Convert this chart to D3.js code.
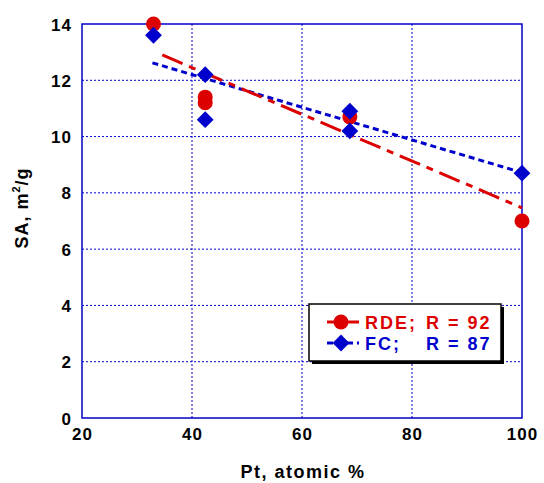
<!DOCTYPE html>
<html>
<head>
<meta charset="utf-8">
<script src="https://cdn.jsdelivr.net/npm/d3@7"></script>
<style>
  html, body { margin: 0; padding: 0; background: #fff; }
  text { font-family: "Liberation Sans", Arial, sans-serif; font-weight: bold; }
</style>
</head>
<body>
<svg id="chart" width="544" height="483"></svg>
<script>
// Surface area vs. Pt content, measured by two methods
const rdePt = [33, 42.4, 42.4, 68.7, 100];
const rdeSA = [14.0, 11.4, 11.2, 10.7, 7.0];
const fcPt  = [33, 42.4, 42.4, 68.7, 68.7, 100];
const fcSA  = [13.6, 12.2, 10.6, 10.9, 10.2, 8.7];

// Trend lines (end points)
const rdeFitPt = [34.6, 100];
const rdeFitSA = [12.9, 7.47];
const fcFitPt  = [32.8, 100];
const fcFitSA  = [12.62, 8.72];

const xTicks = [20, 40, 60, 80, 100];
const yTicks = [0, 2, 4, 6, 8, 10, 12, 14];

const legendLabels = ["RDE;", "FC;"];
const legendR = ["R = 92", "R = 87"];

const RED = "#dd0000";
const BLUE = "#0000cc";

const svg = d3.select("#chart");
const m = { left: 82, right: 522, top: 24, bottom: 418 };

const x = d3.scaleLinear().domain([20, 100]).range([m.left, m.right]);
const y = d3.scaleLinear().domain([0, 14]).range([m.bottom, m.top]);

// grid
const grid = svg.append("g");
grid.selectAll("line.v").data(xTicks.slice(1, -1)).join("line")
  .attr("x1", d => x(d)).attr("x2", d => x(d))
  .attr("y1", m.top).attr("y2", m.bottom)
  .attr("stroke", BLUE).attr("stroke-width", 1).attr("stroke-dasharray", "2,2");
grid.selectAll("line.h").data(yTicks.slice(1, -1)).join("line")
  .attr("x1", m.left).attr("x2", m.right)
  .attr("y1", d => y(d)).attr("y2", d => y(d))
  .attr("stroke", BLUE).attr("stroke-width", 1).attr("stroke-dasharray", "2,2");

// frame
svg.append("rect")
  .attr("x", m.left).attr("y", m.top)
  .attr("width", m.right - m.left).attr("height", m.bottom - m.top)
  .attr("fill", "none").attr("stroke", BLUE).attr("stroke-width", 1.5);

// axes (labels only)
const xAxis = svg.append("g").attr("transform", `translate(0,${m.bottom})`)
  .call(d3.axisBottom(x).tickValues(xTicks).tickSize(0).tickPadding(10));
xAxis.select(".domain").remove();
xAxis.selectAll("text").attr("font-size", 17).attr("letter-spacing", 1)
  .attr("fill", "#000").attr("font-family", "Liberation Sans, Arial, sans-serif")
  .attr("font-weight", "bold");

const yAxis = svg.append("g").attr("transform", `translate(${m.left},0)`)
  .call(d3.axisLeft(y).tickValues(yTicks).tickSize(0).tickPadding(10));
yAxis.select(".domain").remove();
yAxis.selectAll("text").attr("font-size", 17).attr("letter-spacing", 1)
  .attr("fill", "#000").attr("dy", "0.36em").attr("font-family", "Liberation Sans, Arial, sans-serif")
  .attr("font-weight", "bold");

// axis titles
svg.append("text").attr("x", 303).attr("y", 478).attr("text-anchor", "middle")
  .attr("font-size", 18).attr("letter-spacing", 1.5).text("Pt, atomic %");

const yt = svg.append("text").attr("transform", "translate(28,208) rotate(-90)")
  .attr("text-anchor", "middle").attr("font-size", 18).attr("letter-spacing", 1);
yt.append("tspan").text("SA, m");
yt.append("tspan").attr("font-size", 11).attr("dy", -8).text("2");
yt.append("tspan").attr("dy", 8).text("/g");

// trend lines
const line = d3.line().x(d => x(d[0])).y(d => y(d[1]));
svg.append("path").datum(d3.zip(fcFitPt, fcFitSA)).attr("d", line)
  .attr("fill", "none").attr("stroke", BLUE).attr("stroke-width", 3)
  .attr("stroke-dasharray", "6,4");
svg.append("path").datum(d3.zip(rdeFitPt, rdeFitSA)).attr("d", line)
  .attr("fill", "none").attr("stroke", RED).attr("stroke-width", 3)
  .attr("stroke-dasharray", "22,7,7,7");

// markers
const diamond = d3.symbol().type(d3.symbolDiamond2).size(180);
svg.append("g").selectAll("circle").data(d3.zip(rdePt, rdeSA)).join("circle")
  .attr("cx", d => x(d[0])).attr("cy", d => y(d[1])).attr("r", 7.5).attr("fill", RED);
svg.append("g").selectAll("path").data(d3.zip(fcPt, fcSA)).join("path")
  .attr("transform", d => `translate(${x(d[0])},${y(d[1])})`)
  .attr("d", diamond).attr("fill", BLUE);

// legend
const lg = svg.append("g");
lg.append("rect").attr("x", 312).attr("y", 307).attr("width", 192).attr("height", 57).attr("fill", "#000");
lg.append("rect").attr("x", 309).attr("y", 304).attr("width", 192).attr("height", 57)
  .attr("fill", "#fff").attr("stroke", "#000").attr("stroke-width", 1.5);

const rows = [
  { c: RED, yy: 322, dash: null },
  { c: BLUE, yy: 343, dash: "6,4" }
];
rows.forEach((r, i) => {
  lg.append("line").attr("x1", 327).attr("x2", 359).attr("y1", r.yy).attr("y2", r.yy)
    .attr("stroke", r.c).attr("stroke-width", 3).attr("stroke-dasharray", r.dash);
  if (i === 0) {
    lg.append("circle").attr("cx", 341).attr("cy", r.yy).attr("r", 7.5).attr("fill", r.c);
  } else {
    lg.append("path").attr("transform", `translate(341,${r.yy})`).attr("d", diamond).attr("fill", r.c);
  }
  lg.append("text").attr("x", 365).attr("y", r.yy + 6.5).attr("font-size", 18)
    .attr("letter-spacing", 2).attr("fill", r.c).text(legendLabels[i]);
  lg.append("text").attr("x", 426).attr("y", r.yy + 6.5).attr("font-size", 18)
    .attr("letter-spacing", 2).attr("fill", r.c).text(legendR[i]);
});
</script>
</body>
</html>
